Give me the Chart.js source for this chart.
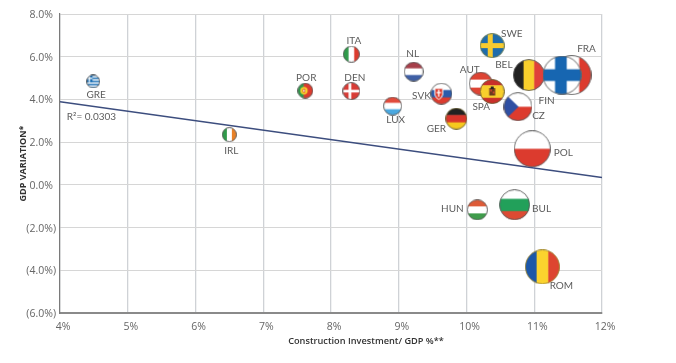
<!DOCTYPE html>
<html><head><meta charset="utf-8">
<script src="https://cdn.jsdelivr.net/npm/chart.js@4"></script>
<style>html,body{margin:0;padding:0;background:#fff}canvas{display:block}</style>
</head><body><canvas id="c" width="676" height="363"></canvas>
<script>
// ---- data ----
const countries = ["FRA","GRE","IRL","POR","ITA","DEN","NL","LUX","SVK","GER","AUT","SPA","SWE","BEL","FIN","CZ","POL","HUN","BUL","ROM"];
const investment = [11.55,4.49,6.50,7.62,8.30,8.30,9.22,8.91,9.63,9.85,10.21,10.38,10.38,10.92,11.41,10.76,10.97,10.16,10.71,11.12];
const gdpVariation = [5.14,4.84,2.35,4.41,6.12,4.39,5.30,3.69,4.27,3.10,4.74,4.37,6.52,5.14,5.14,3.66,1.69,-1.17,-0.93,-3.84];
const bubbleRadius = [20,7,7.5,8,8.5,9,10,9.5,11,11,12,12.5,12.5,16,19.5,14.5,18.5,10.5,15.5,17.5];
const trendX = [4,12];
const trendY = [3.89,0.34];
const xTicks = [4,5,6,7,8,9,10,11,12];
const yTicks = [8,6,4,2,0,-2,-4,-6];
const rSquared = "R²= 0.0303";

// ---- label placement (pixel offset from each bubble centre) ----
const labelOffset = {GRE:[3,13],IRL:[2,16],POR:[1,-13],ITA:[2.5,-13.5],DEN:[3.5,-13.5],NL:[-1,-18],LUX:[3,14],SVK:[-20,2],GER:[-20,10],
 AUT:[-11,-14],SPA:[-11,15.5],SWE:[19.5,-12],BEL:[-25,-10.5],FRA:[15,-26.5],FIN:[-15.5,26],CZ:[20.5,9.5],POL:[31,4],HUN:[-25,-1],BUL:[27,4],ROM:[19,18.5]};

// ---- flag painting ----
const C={r:"#dc3b2e",b:"#1c63ad",g:"#2f9a4a",w:"#ffffff",y:"#f8cf2c",k:"#222222"};
function hBands(g,s,cols,w){let y=0,tot=w?w.reduce((a,b)=>a+b):cols.length;cols.forEach((c,i)=>{const h=s*(w?w[i]:1)/tot;g.fillStyle=c;g.fillRect(0,y,s,h+0.5);y+=h;});}
function vBands(g,s,cols,w){let x=0,tot=w?w.reduce((a,b)=>a+b):cols.length;cols.forEach((c,i)=>{const d=s*(w?w[i]:1)/tot;g.fillStyle=c;g.fillRect(x,0,d+0.5,s);x+=d;});}
function nordic(g,s,bg,fg,cx,t){g.fillStyle=bg;g.fillRect(0,0,s,s);g.fillStyle=fg;g.fillRect(s*cx-s*t/2,0,s*t,s);g.fillRect(0,s/2-s*t/2,s,s*t);}
const painters={
 FRA:(g,s)=>vBands(g,s,[C.w,C.w,C.r],[1,1.25,1]),
 GRE:(g,s)=>{hBands(g,s,["#1a6fb5",C.w,"#1a6fb5",C.w,"#1a6fb5",C.w,"#1a6fb5",C.w,"#1a6fb5"]);g.fillStyle="#1a6fb5";g.fillRect(0,0,s*.45,s*.55);g.fillStyle=C.w;g.fillRect(s*.18,0,s*.09,s*.55);g.fillRect(0,s*.23,s*.45,s*.09);},
 IRL:(g,s)=>vBands(g,s,[C.g,C.w,"#e98127"]),
 POR:(g,s)=>{vBands(g,s,[C.g,C.r],[2,3]);g.fillStyle=C.y;g.beginPath();g.arc(s*.42,s*.5,s*.23,0,7);g.fill();g.fillStyle=C.r;g.fillRect(s*.34,s*.4,s*.16,s*.2);g.fillStyle=C.w;g.fillRect(s*.38,s*.44,s*.08,s*.12);},
 ITA:(g,s)=>vBands(g,s,[C.g,C.w,C.r]),
 DEN:(g,s)=>nordic(g,s,"#d83c36",C.w,.42,.15),
 NL:(g,s)=>hBands(g,s,["#a63f4a",C.w,"#3f5fa5"]),
 LUX:(g,s)=>hBands(g,s,["#e14b3c",C.w,"#4aa8e0"]),
 SVK:(g,s)=>{hBands(g,s,[C.w,"#2b5bab",C.r]);g.fillStyle=C.r;g.beginPath();g.moveTo(s*.2,s*.26);g.lineTo(s*.56,s*.26);g.lineTo(s*.56,s*.55);g.quadraticCurveTo(s*.5,s*.72,s*.38,s*.76);g.quadraticCurveTo(s*.26,s*.72,s*.2,s*.55);g.closePath();g.fill();g.strokeStyle=C.w;g.lineWidth=1;g.stroke();g.fillStyle=C.w;g.fillRect(s*.35,s*.32,s*.06,s*.32);g.fillRect(s*.28,s*.42,s*.2,s*.06);},
 GER:(g,s)=>hBands(g,s,[C.k,"#d9342b","#f6c81e"]),
 AUT:(g,s)=>hBands(g,s,["#dd4434",C.w,"#dd4434"]),
 SPA:(g,s)=>{hBands(g,s,["#c9302a",C.y,"#c9302a"],[1,2,1]);g.fillStyle="#6b3a1e";g.fillRect(s*.38,s*.36,s*.24,s*.3);g.fillStyle=C.k;g.fillRect(s*.44,s*.3,s*.12,s*.1);g.fillStyle="#d9442f";g.fillRect(s*.42,s*.42,s*.06,s*.08);g.fillRect(s*.52,s*.5,s*.06,s*.08);},
 SWE:(g,s)=>nordic(g,s,"#1f6cab","#f7cb2f",.42,.2),
 BEL:(g,s)=>vBands(g,s,[C.k,C.y,"#e0403a"]),
 FIN:(g,s)=>nordic(g,s,C.w,"#1766b1",.47,.3),
 CZ:(g,s)=>{hBands(g,s,[C.w,C.r]);g.fillStyle="#2f4fa3";g.beginPath();g.moveTo(0,0);g.lineTo(s*.52,s*.5);g.lineTo(0,s);g.closePath();g.fill();},
 POL:(g,s)=>hBands(g,s,[C.w,C.r]),
 HUN:(g,s)=>hBands(g,s,["#dd5b38",C.w,"#3f9c4b"]),
 BUL:(g,s)=>hBands(g,s,[C.w,"#22a05a","#dc4a33"],[1.05,1.35,1]),
 ROM:(g,s)=>vBands(g,s,["#1c57a8","#fbd32e","#dd4530"])
};
const rim={ROM:"#9c8430",GER:"#6a6030",SPA:"#6a5a30",SWE:"#6a7a50"};
const flagCache={};
function flag(code,r){
 if(flagCache[code])return flagCache[code];
 const s=Math.round(r*2),cv=document.createElement("canvas");cv.width=cv.height=s;
 const g=cv.getContext("2d");g.save();g.beginPath();g.arc(s/2,s/2,s/2-.4,0,Math.PI*2);g.clip();
 painters[code](g,s);g.restore();
 g.beginPath();g.arc(s/2,s/2,s/2-.5,0,Math.PI*2);g.strokeStyle=rim[code]||"#5a5a5a";g.lineWidth=.9;g.stroke();
 return flagCache[code]=cv;
}

const points=countries.map((n,i)=>({x:investment[i],y:gdpVariation[i],r:bubbleRadius[i],code:n}));
const trend=trendX.map((x,i)=>({x,y:trendY[i]}));
const FONT='"Open Sans", sans-serif';

const labels={id:"labels",afterDatasetsDraw(ch){
 const g=ch.ctx,mx=ch.getDatasetMeta(1).data;
 g.save();g.font='10px Lato, '+FONT;g.fillStyle="#5c5c5c";g.textAlign="center";g.textBaseline="middle";
 mx.forEach((el,i)=>{const o=labelOffset[countries[i]];g.fillText(countries[i],el.x+o[0],el.y+o[1]);});
 g.textAlign="left";g.fillText(rSquared,ch.scales.x.getPixelForValue(4.1),ch.scales.y.getPixelForValue(3.17));
 g.font='600 9.2px '+FONT;g.fillStyle="#333";g.textAlign="center";
 g.fillText("Construction Investment/ GDP %**",366,341);
 g.restore();
}};

new Chart(document.getElementById("c"),{
 type:"bubble",
 data:{datasets:[
  {type:"line",label:"Trend",data:trend,borderColor:"#3c4d7e",borderWidth:1.5,pointRadius:0,fill:false,tension:0,order:2},
  {type:"bubble",label:"Countries",data:points,order:1,pointStyle:c=>c.raw?flag(c.raw.code,c.raw.r):"circle",backgroundColor:"transparent",borderWidth:0,hoverRadius:0}
 ]},
 plugins:[labels],
 options:{
  responsive:false,animation:false,
  layout:{autoPadding:false,padding:{top:14,right:74,left:0,bottom:0}},
  plugins:{legend:{display:false},tooltip:{enabled:false}},
  scales:{
   x:{type:"linear",min:4,max:12,
    afterBuildTicks:a=>{a.ticks=xTicks.map(v=>({value:v}));},
    afterFit:s=>{s.height=50;},
    grid:{color:"#cfd2d6",lineWidth:1.3,drawTicks:false},
    border:{color:"#8a8a8a",width:2},
    ticks:{padding:8,labelOffset:3,maxRotation:0,color:"#666",font:{family:FONT,size:10.5},callback:v=>v+"%"}},
   y:{type:"linear",min:-6,max:8,
    afterBuildTicks:a=>{a.ticks=yTicks.map(v=>({value:v}));},
    afterFit:s=>{s.width=60;},
    grid:{color:"#d6d6d6",lineWidth:1,drawTicks:false},
    border:{color:"#7a7a7a",width:1.2},
    title:{display:true,text:"GDP VARIATION*",color:"#333",font:{family:FONT,size:9,weight:"bold"},padding:{top:18,bottom:0}},
    ticks:{crossAlign:"center",padding:4,labelOffset:1,color:"#666",font:{family:FONT,size:10.5},
     callback:v=>v<0?"("+Math.abs(v).toFixed(1)+"%)":v.toFixed(1)+"%"}}
  }
 }
});
</script></body></html>
